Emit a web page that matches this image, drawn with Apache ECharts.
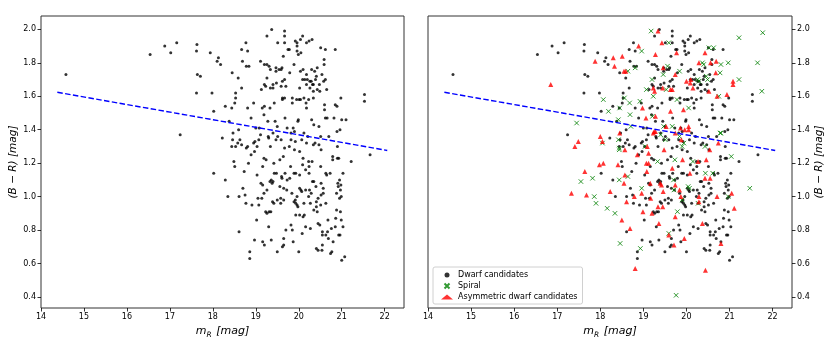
<!DOCTYPE html>
<html>
<head>
<meta charset="utf-8">
<script src="https://cdn.jsdelivr.net/npm/echarts@6/dist/echarts.min.js"></script>
<style>
  html, body { margin: 0; padding: 0; background: #fff; }
  #chart { width: 830px; height: 347px; }
</style>
</head>
<body>
<div id="chart"></div>
<script>
// tick labels
const xTicks = [14, 15, 16, 17, 18, 19, 20, 21, 22]
const yTicks = [0.4, 0.6, 0.8, 1.0, 1.2, 1.4, 1.6, 1.8, 2.0]

// fitted relation (end points)
const trendX = [14.38, 22.06]
const trendY = [1.624, 1.276]

// dwarf candidates [m_R, B-R]
const dwarf = [
  [14.58,1.73],[16.54,1.85],[16.88,1.90],[17.02,1.86],[17.16,1.92],[17.24,1.37],[17.63,1.91],[17.62,1.87],[17.64,1.73],[17.71,1.72],
  [17.62,1.62],[17.94,1.86],[17.98,1.62],[18.02,1.51],[18.10,1.81],[18.13,1.83],[18.18,1.79],[18.22,1.35],[18.02,1.14],[18.29,1.54],
  [18.29,1.10],[18.35,1.00],[18.38,1.45],[18.45,1.74],[18.46,1.34],[18.47,1.38],[18.44,1.30],[18.49,1.21],[18.51,1.18],[18.51,1.56],
  [18.53,1.59],[18.53,1.62],[18.59,1.71],[18.44,1.53],[18.53,1.30],[18.58,1.32],[18.60,1.40],[18.61,1.00],[18.61,0.79],[18.67,1.65],
  [18.67,1.88],[18.69,1.81],[18.63,1.34],[18.67,1.31],[18.70,1.05],[18.73,1.15],[18.75,1.01],[18.77,0.96],[18.77,1.92],[18.81,1.87],
  [18.78,1.78],[18.84,1.78],[18.81,1.53],[18.78,1.29],[18.81,1.30],[18.83,1.20],[18.86,0.67],[18.86,0.63],[18.89,1.47],[18.89,1.25],
  [18.91,0.95],[18.95,1.32],[18.97,1.27],[18.95,1.56],[18.98,1.33],[18.97,0.74],[19.00,1.41],[19.02,0.86],[19.03,1.30],[19.03,1.13],
  [19.05,0.99],[19.07,1.34],[19.08,1.41],[19.11,1.37],[19.07,0.95],[19.11,1.81],[19.12,1.08],[19.14,0.99],[19.13,1.64],[19.15,1.53],
  [19.16,1.18],[19.16,1.07],[19.16,0.73],[19.19,1.49],[19.19,1.23],[19.19,1.02],[19.20,1.79],[19.20,1.67],[19.23,1.66],[19.20,1.54],
  [19.20,0.71],[19.23,0.91],[19.24,1.22],[19.26,1.71],[19.26,1.96],[19.26,1.79],[19.26,1.04],[19.26,0.90],[19.28,1.45],[19.29,1.36],
  [19.30,1.35],[19.30,0.82],[19.31,1.78],[19.31,0.91],[19.33,1.09],[19.33,1.53],[19.34,1.76],[19.34,1.65],[19.34,1.30],[19.35,0.91],
  [19.36,0.74],[19.36,1.10],[19.37,2.00],[19.38,1.08],[19.39,0.97],[19.40,1.09],[19.40,1.67],[19.40,1.65],[19.40,1.38],[19.42,1.20],
  [19.42,0.96],[19.43,1.56],[19.43,1.14],[19.45,1.45],[19.47,1.34],[19.47,1.75],[19.47,1.77],[19.48,1.68],[19.48,1.14],[19.50,0.67],
  [19.50,0.98],[19.51,1.92],[19.50,1.42],[19.51,1.36],[19.54,1.76],[19.56,1.22],[19.56,1.06],[19.58,0.99],[19.58,0.96],[19.59,1.76],
  [19.59,1.34],[19.59,1.66],[19.60,1.12],[19.61,1.77],[19.61,1.11],[19.62,0.70],[19.62,1.59],[19.62,1.58],[19.62,1.69],[19.64,1.84],
  [19.64,1.24],[19.65,1.05],[19.65,0.98],[19.65,0.71],[19.65,0.75],[19.67,1.99],[19.67,1.96],[19.67,1.92],[19.67,1.70],[19.68,1.47],
  [19.67,1.59],[19.67,1.29],[19.68,1.14],[19.70,0.80],[19.70,1.66],[19.72,1.04],[19.73,1.10],[19.73,1.41],[19.75,1.88],[19.78,1.88],
  [19.78,1.30],[19.79,1.74],[19.79,1.11],[19.81,1.18],[19.82,1.38],[19.82,1.34],[19.82,0.83],[19.84,1.02],[19.85,0.80],[19.85,1.56],
  [19.85,1.59],[19.87,0.73],[19.87,1.41],[19.89,1.14],[19.89,0.97],[19.89,1.79],[19.90,1.28],[19.90,1.39],[19.92,1.93],[19.92,1.33],
  [19.92,0.98],[19.93,1.14],[19.93,0.89],[19.93,0.96],[19.95,1.58],[19.96,1.92],[19.96,1.90],[19.96,1.87],[19.96,1.00],[19.96,0.95],
  [19.98,1.45],[19.98,0.94],[19.99,1.46],[19.99,1.85],[20.00,0.67],[20.01,1.58],[20.02,1.27],[20.02,1.13],[20.02,1.65],[20.02,1.05],
  [20.02,0.89],[20.04,1.75],[20.04,1.94],[20.04,1.58],[20.05,1.86],[20.05,1.04],[20.07,1.34],[20.07,1.03],[20.08,0.78],[20.09,1.70],
  [20.09,1.96],[20.09,1.19],[20.10,1.76],[20.10,1.23],[20.10,0.88],[20.12,0.96],[20.12,1.59],[20.12,1.38],[20.13,0.89],[20.14,1.70],
  [20.16,1.04],[20.16,0.82],[20.16,1.16],[20.17,1.56],[20.18,1.92],[20.18,1.73],[20.18,1.32],[20.18,1.53],[20.18,1.67],[20.20,1.70],
  [20.21,1.36],[20.23,1.58],[20.23,1.00],[20.23,1.21],[20.24,1.18],[20.24,1.93],[20.24,1.14],[20.25,1.04],[20.26,1.69],[20.26,1.65],
  [20.27,0.96],[20.27,0.81],[20.29,1.02],[20.29,1.69],[20.30,1.76],[20.30,1.46],[20.31,1.94],[20.31,1.21],[20.32,1.67],[20.32,1.09],
  [20.34,1.67],[20.34,1.63],[20.34,1.59],[20.34,1.31],[20.35,0.92],[20.35,1.43],[20.35,1.09],[20.37,1.75],[20.38,1.32],[20.39,1.70],
  [20.40,1.06],[20.41,0.97],[20.41,0.94],[20.41,0.69],[20.41,1.72],[20.43,0.91],[20.43,1.64],[20.43,1.77],[20.45,0.68],[20.45,0.84],
  [20.45,0.99],[20.47,1.31],[20.47,1.42],[20.48,1.67],[20.49,0.83],[20.49,1.63],[20.51,1.89],[20.51,0.95],[20.51,1.36],[20.51,1.18],
  [20.52,1.28],[20.52,1.08],[20.52,1.01],[20.54,1.73],[20.54,0.68],[20.55,0.71],[20.55,0.79],[20.55,0.77],[20.57,1.02],[20.57,1.05],
  [20.58,1.69],[20.59,1.82],[20.59,1.79],[20.60,1.52],[20.60,1.55],[20.62,1.70],[20.62,1.47],[20.63,1.14],[20.63,0.96],[20.63,0.77],
  [20.65,1.64],[20.65,1.13],[20.66,1.47],[20.67,0.79],[20.68,0.86],[20.69,0.75],[20.62,1.88],[20.70,1.36],[20.73,1.14],[20.74,0.66],
  [20.76,0.81],[20.77,0.67],[20.79,1.24],[20.79,1.22],[20.80,0.73],[20.82,1.47],[20.85,1.55],[20.85,0.82],[20.88,1.02],[20.88,0.92],
  [20.91,1.08],[20.93,1.23],[20.95,1.10],[20.96,1.40],[20.98,1.59],[20.98,1.07],[20.99,1.00],[20.86,0.87],[20.90,1.23],[20.89,1.54],
  [20.89,1.39],[20.90,1.30],[20.92,1.06],[20.95,0.99],[20.85,1.88],[20.97,1.04],[20.93,0.77],[20.96,0.77],[20.99,0.86],[20.97,0.91],
  [21.03,1.14],[21.00,0.62],[21.03,0.82],[21.07,0.64],[21.00,1.46],[21.10,1.46],[21.22,1.21],[21.53,1.61],[21.53,1.57],[21.66,1.25]
]

// spiral galaxies
const spiral = [
  [19.18,1.99],[19.59,1.92],[18.96,1.87],[18.81,1.77],[18.64,1.75],[19.46,1.73],[19.56,1.78],[19.84,1.75],[19.20,1.70],[19.07,1.64],
  [19.23,1.60],[19.53,1.64],[19.78,1.58],[20.05,1.53],[18.07,1.58],[18.19,1.51],[18.45,1.53],[18.56,1.59],[18.68,1.56],[18.69,1.49],
  [18.92,1.57],[19.21,1.48],[19.67,1.42],[19.47,1.42],[18.42,1.46],[17.45,1.44],[18.71,1.42],[19.40,1.37],[19.51,1.34],[19.84,1.36],
  [19.90,1.30],[19.94,1.32],[18.42,1.34],[18.44,1.29],[18.44,1.28],[18.05,1.32],[19.04,1.30],[19.33,1.21],[19.73,1.22],[20.15,1.21],
  [20.43,1.30],[21.04,1.24],[20.78,1.38],[20.80,1.38],[20.44,1.14],[20.61,1.14],[19.70,1.10],[18.64,1.12],[18.44,1.10],[17.82,1.11],
  [17.55,1.09],[17.86,1.00],[17.90,0.96],[18.16,0.93],[18.34,0.90],[18.96,1.05],[20.04,1.06],[20.07,1.05],[19.71,1.04],[19.90,0.98],
  [20.27,0.96],[20.97,1.00],[21.47,1.05],[19.79,0.91],[19.59,0.78],[18.93,0.69],[18.46,0.72],[19.76,0.41],[20.52,1.89],[20.63,1.89],
  [20.37,1.80],[20.40,1.79],[20.80,1.79],[20.97,1.80],[20.78,1.74],[20.46,1.72],[20.49,1.70],[20.26,1.70],[20.29,1.69],[21.22,1.70],
  [21.22,1.95],[21.65,1.80],[21.77,1.98],[21.75,1.63],[20.75,1.60]
]

// asymmetric dwarf candidates
const asym = [
  [19.34,1.99],[19.43,1.92],[18.89,1.90],[19.28,1.85],[19.77,1.86],[20.43,1.86],[17.88,1.81],[18.30,1.83],[18.33,1.78],[18.51,1.84],
  [18.55,1.75],[18.59,1.75],[16.85,1.67],[19.46,1.77],[19.74,1.73],[20.29,1.80],[20.56,1.80],[20.69,1.81],[20.68,1.74],[20.10,1.70],
  [20.15,1.65],[19.45,1.65],[19.63,1.64],[19.67,1.64],[19.23,1.65],[19.26,1.63],[20.52,1.63],[20.71,1.60],[20.94,1.61],[21.08,1.69],
  [21.08,1.67],[18.98,1.53],[19.06,1.47],[19.28,1.48],[19.63,1.51],[19.93,1.52],[20.09,1.68],[20.00,1.69],[19.53,1.42],[19.25,1.39],
  [19.28,1.39],[19.23,1.38],[19.96,1.40],[20.05,1.40],[19.74,1.38],[18.00,1.36],[18.05,1.33],[18.45,1.38],[17.49,1.33],[17.41,1.30],
  [18.57,1.28],[18.86,1.25],[19.09,1.30],[19.12,1.26],[19.48,1.28],[19.88,1.34],[20.54,1.28],[20.74,1.32],[17.98,1.19],[18.07,1.20],
  [18.41,1.19],[19.07,1.20],[19.12,1.20],[19.67,1.17],[19.91,1.22],[20.27,1.21],[20.46,1.22],[20.08,1.14],[17.64,1.15],[18.57,1.13],
  [19.08,1.15],[18.55,1.08],[19.16,1.08],[19.39,1.08],[19.42,1.07],[19.74,1.07],[20.43,1.11],[20.55,1.11],[19.87,1.00],[17.33,1.02],
  [17.68,1.01],[18.23,1.03],[18.79,1.00],[18.61,0.97],[18.96,1.02],[19.17,0.99],[19.46,1.03],[19.84,1.04],[20.29,1.00],[20.29,0.97],
  [20.71,1.00],[21.05,1.02],[21.11,0.93],[19.34,0.94],[19.45,0.94],[18.99,0.91],[19.20,0.90],[19.74,0.88],[18.50,0.86],[19.36,0.84],
  [20.37,0.84],[18.69,0.81],[19.59,0.77],[19.95,0.75],[19.71,0.71],[20.80,0.72],[18.81,0.57],[20.44,0.56],[19.86,1.41],[20.05,1.42]
]

const FONT = 'DejaVu Sans'
const chart = echarts.init(document.getElementById('chart'), null, { renderer: 'canvas' })

const xAxisOf = (gridIndex) => ({
  type: 'value',
  gridIndex,
  min: 14,
  max: 22.45,
  name: '{i|m}{s|R}{i| [mag]}',
  nameLocation: 'middle',
  nameGap: 14,
  nameTextStyle: {
    rich: {
      i: { fontFamily: FONT, fontStyle: 'italic', fontSize: 11, color: '#000', verticalAlign: 'top' },
      s: { fontFamily: FONT, fontStyle: 'italic', fontSize: 7.5, color: '#000', verticalAlign: 'bottom', padding: [5, 1, 0, 0] }
    }
  },
  axisLine: { show: false },
  splitLine: { show: false },
  axisTick: { show: true, inside: false, length: 3.5, customValues: xTicks, lineStyle: { color: '#000', width: 0.8 } },
  axisLabel: {
    customValues: xTicks,
    margin: 5,
    fontFamily: FONT,
    fontSize: 8,
    color: '#000',
    formatter: v => String(Math.round(v))
  }
})

// y label reads bottom-to-top on both panels (matplotlib keeps rotation 90)
const yAxisOf = (gridIndex, position) => ({
  type: 'value',
  gridIndex,
  position,
  min: 0.334,
  max: 2.08,
  name: '(B − R) [mag]',
  nameLocation: 'middle',
  nameRotate: 90,
  nameGap: 22,
  nameTextStyle: { fontFamily: FONT, fontStyle: 'italic', fontSize: 10.5, color: '#000' },
  axisLine: { show: false },
  splitLine: { show: false },
  axisTick: { show: true, inside: false, length: 3.5, customValues: yTicks, lineStyle: { color: '#000', width: 0.8 } },
  axisLabel: {
    customValues: yTicks,
    margin: 5,
    fontFamily: FONT,
    fontSize: 8,
    color: '#000',
    formatter: v => v.toFixed(1)
  }
})

const trend = trendX.map((x, i) => [x, trendY[i]])

const dotStyle = { color: '#000' }
const crossStyle = { color: 'rgba(0,0,0,0)', borderColor: '#008000', borderWidth: 1 }
const triStyle = { color: '#ff0000' }

const trendSeries = (idx) => ({
  type: 'line',
  xAxisIndex: idx,
  yAxisIndex: idx,
  data: trend,
  symbol: 'none',
  silent: true,
  lineStyle: { color: '#0000ff', width: 1.4, type: [5.5, 2.4] },
  z: 5
})

const option = {
  animation: false,
  backgroundColor: '#fff',
  grid: [
    { left: 41, right: 426, top: 16, bottom: 39, show: true, borderColor: '#333', borderWidth: 1, backgroundColor: '#fff' },
    { left: 428, right: 38, top: 16, bottom: 39, show: true, borderColor: '#333', borderWidth: 1, backgroundColor: '#fff' }
  ],
  xAxis: [xAxisOf(0), xAxisOf(1)],
  yAxis: [yAxisOf(0, 'left'), yAxisOf(1, 'right')],
  legend: {
    orient: 'vertical',
    left: 433,
    top: 267,
    padding: [4, 5, 3, 8],
    itemGap: 3,
    itemWidth: 12,
    itemHeight: 5,
    selectedMode: false,
    borderColor: '#d0d0d0',
    borderWidth: 1,
    borderRadius: 2,
    backgroundColor: 'rgba(255,255,255,0.8)',
    textStyle: { fontFamily: FONT, fontSize: 8, color: '#000' },
    data: ['Dwarf candidates', 'Spiral', 'Asymmetric dwarf candidates']
  },
  series: [
    {
      name: 'Dwarf candidates', type: 'scatter', xAxisIndex: 0, yAxisIndex: 0,
      data: dwarf, symbol: 'circle', symbolSize: 3, itemStyle: dotStyle
    },
    trendSeries(0),
    {
      name: 'Dwarf candidates', type: 'scatter', xAxisIndex: 1, yAxisIndex: 1,
      data: dwarf, symbol: 'circle', symbolSize: 3, itemStyle: dotStyle
    },
    {
      name: 'Spiral', type: 'scatter', xAxisIndex: 1, yAxisIndex: 1,
      data: spiral, symbol: 'path://M0,0L10,10M10,0L0,10', symbolSize: 4.5, itemStyle: crossStyle
    },
    {
      name: 'Asymmetric dwarf candidates', type: 'scatter', xAxisIndex: 1, yAxisIndex: 1,
      data: asym, symbol: 'triangle', symbolSize: 5, itemStyle: triStyle
    },
    trendSeries(1)
  ]
}

chart.setOption(option)
</script>
</body>
</html>
